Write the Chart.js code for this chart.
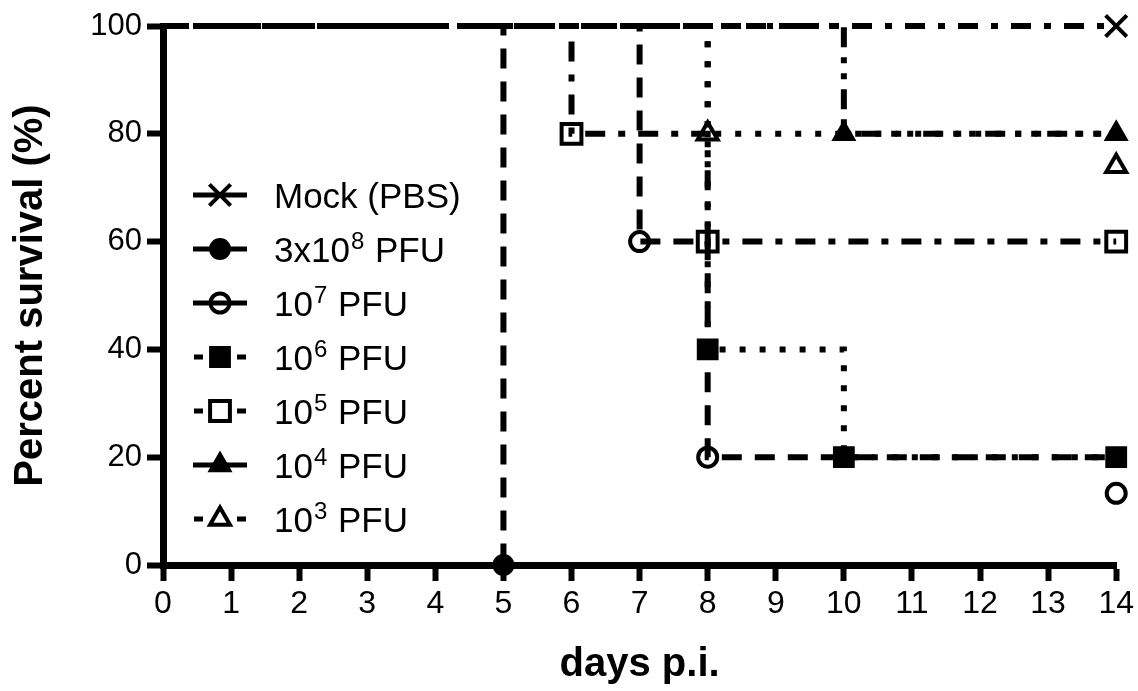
<!DOCTYPE html>
<html>
<head>
<meta charset="utf-8">
<title>Percent survival</title>
<script src="https://cdn.jsdelivr.net/npm/chart.js@4.4.1/dist/chart.umd.min.js"></script>
<style>
  html, body { margin: 0; padding: 0; background: #fff; }
  #wrap { width: 1138px; height: 691px; }
</style>
</head>
<body>
<div id="wrap"><canvas id="survivalChart" width="1138" height="691"></canvas></div>
<script>
// Values
const dayTicks = [0, 1, 2, 3, 4, 5, 6, 7, 8, 9, 10, 11, 12, 13, 14];
const survivalTicks = [0, 20, 40, 60, 80, 100];

const seriesNames = ["Mock (PBS)", "3x10^8 PFU", "10^7 PFU", "10^6 PFU", "10^5 PFU", "10^4 PFU", "10^3 PFU"];

const mockDays = [0, 14];
const mockSurvival = [100, 100];
const mockMarked = [false, true];

const pfu3e8Days = [0, 5];
const pfu3e8Survival = [100, 0];
const pfu3e8Marked = [false, true];

const pfu1e7Days = [0, 7, 8, 14];
const pfu1e7Survival = [100, 60, 20, 20];
const pfu1e7Marked = [false, true, true, false];

const pfu1e6Days = [0, 8, 10, 14];
const pfu1e6Survival = [100, 40, 20, 20];
const pfu1e6Marked = [false, true, true, true];

const pfu1e5Days = [0, 6, 8, 14];
const pfu1e5Survival = [100, 80, 60, 60];
const pfu1e5Marked = [false, true, true, true];

const pfu1e4Days = [0, 10, 14];
const pfu1e4Survival = [100, 80, 80];
const pfu1e4Marked = [false, true, true];

const pfu1e3Days = [0, 8, 14];
const pfu1e3Survival = [100, 80, 80];
const pfu1e3Marked = [false, true, false];

// end symbols that the figure shows nudged off their line (10^7 and 10^3)
const nudgedDays = [14, 14];
const nudgedSurvival = [13.3, 74];

const FONT = "'Liberation Sans', Arial, sans-serif";

function series(idx, days, surv, marked, look) {
  return {
    label: seriesNames[idx],
    data: days.map((d, i) => ({ x: d, y: surv[i] })),
    stepped: true,
    borderColor: "#000",
    borderWidth: 6,
    borderDash: look.dash,
    pointStyle: look.shape,
    pointRadius: marked.map(m => (m ? look.r : 0)),
    pointBackgroundColor: look.filled ? "#000" : "rgba(0,0,0,0)",
    pointBorderColor: "#000",
    pointBorderWidth: look.bw,
    keyRadius: look.r,
    keyStub: look.stub,
    clip: false,
    fill: false
  };
}

const dashed = [20, 13];
const dotted = [6, 14];
const dashDot = [20, 13, 7, 13];
const dashDotDot = [20, 10, 6, 10, 6, 10];

const looks = [
  { dash: dashDot, shape: "crossRot", r: 15, bw: 4, filled: false, stub: false },
  { dash: dashed, shape: "circle", r: 10, bw: 2, filled: true, stub: false },
  { dash: dashed, shape: "circle", r: 9.5, bw: 4, filled: false, stub: false },
  { dash: dotted, shape: "rect", r: 14, bw: 2, filled: true, stub: true },
  { dash: dashDot, shape: "rect", r: 14, bw: 4, filled: false, stub: true },
  { dash: dashDotDot, shape: "triangle", r: 12.5, bw: 2, filled: true, stub: false },
  { dash: dotted, shape: "triangle", r: 11.5, bw: 4, filled: false, stub: true }
];

const datasets = [
  series(0, mockDays, mockSurvival, mockMarked, looks[0]),
  series(1, pfu3e8Days, pfu3e8Survival, pfu3e8Marked, looks[1]),
  series(2, pfu1e7Days, pfu1e7Survival, pfu1e7Marked, looks[2]),
  series(3, pfu1e6Days, pfu1e6Survival, pfu1e6Marked, looks[3]),
  series(4, pfu1e5Days, pfu1e5Survival, pfu1e5Marked, looks[4]),
  series(5, pfu1e4Days, pfu1e4Survival, pfu1e4Marked, looks[5]),
  series(6, pfu1e3Days, pfu1e3Survival, pfu1e3Marked, looks[6])
];

// the two nudged end symbols, no line
[2, 6].forEach((idx, k) => {
  const lk = looks[idx];
  datasets.push({
    label: seriesNames[idx] + " end",
    data: [{ x: nudgedDays[k], y: nudgedSurvival[k] }],
    showLine: false,
    pointStyle: lk.shape,
    pointRadius: lk.r,
    pointBackgroundColor: lk.filled ? "#000" : "rgba(0,0,0,0)",
    pointBorderColor: "#000",
    pointBorderWidth: lk.bw,
    clip: false
  });
});

// Legend drawn by hand so the exponents can be superscript
const keyPlugin = {
  id: "key",
  afterDatasetsDraw(chart) {
    const ctx = chart.ctx;
    ctx.save();
    seriesNames.forEach((name, i) => {
      const ds = chart.data.datasets[i];
      const y = 195 + i * 54;
      const cx = 220;

      ctx.strokeStyle = "#000";
      ctx.lineWidth = 5;
      ctx.setLineDash([]);
      ctx.beginPath();
      if (ds.keyStub) {
        ctx.moveTo(194, y); ctx.lineTo(203, y);
        ctx.moveTo(237, y); ctx.lineTo(246, y);
      } else {
        ctx.moveTo(193, y); ctx.lineTo(247, y);
      }
      ctx.stroke();

      ctx.fillStyle = ds.pointBackgroundColor;
      ctx.strokeStyle = "#000";
      ctx.lineWidth = ds.pointBorderWidth;
      Chart.helpers.drawPoint(ctx, {
        pointStyle: ds.pointStyle,
        radius: ds.keyRadius,
        rotation: 0,
        borderWidth: ds.pointBorderWidth
      }, cx, y);

      // text, "^n" becomes a superscript
      ctx.fillStyle = "#000";
      ctx.textBaseline = "alphabetic";
      ctx.textAlign = "left";
      let x = 274;
      const base = y + 13;
      name.split(/(\^\d+)/).forEach(part => {
        if (!part) return;
        if (part[0] === "^") {
          ctx.font = "24px " + FONT;
          ctx.fillText(part.slice(1), x + 1, base - 13);
          x += ctx.measureText(part.slice(1)).width + 2;
        } else {
          ctx.font = "35px " + FONT;
          ctx.fillText(part, x, base);
          x += ctx.measureText(part).width;
        }
      });
    });
    ctx.restore();
  }
};

const ctx = document.getElementById("survivalChart").getContext("2d");
const survivalChart = new Chart(ctx, {
  type: "line",
  data: { datasets: datasets },
  options: {
    responsive: false,
    animation: false,
    events: [],
    layout: { padding: { top: 26, right: 19, left: 0, bottom: 0 } },
    scales: {
      x: {
        type: "linear",
        min: 0,
        max: 14,
        afterBuildTicks: scale => { scale.ticks = dayTicks.map(v => ({ value: v })); },
        afterFit: scale => { scale.height = 126; },
        border: { display: true, color: "#000", width: 7 },
        grid: {
          drawOnChartArea: false,
          drawTicks: true,
          tickLength: 16,
          tickWidth: 6,
          tickColor: "#000"
        },
        ticks: {
          color: "#000",
          padding: 4,
          maxRotation: 0,
          autoSkip: false,
          font: { family: FONT, size: 32 }
        },
        title: {
          display: true,
          text: "days p.i.",
          color: "#000",
          padding: { top: 0, bottom: 2 },
          font: { family: FONT, size: 40, weight: "bold" }
        }
      },
      y: {
        min: 0,
        max: 100,
        afterBuildTicks: scale => { scale.ticks = survivalTicks.map(v => ({ value: v })); },
        afterFit: scale => { scale.width = 163; },
        border: { display: true, color: "#000", width: 7 },
        grid: {
          drawOnChartArea: false,
          drawTicks: true,
          tickLength: 16,
          tickWidth: 6,
          tickColor: "#000"
        },
        ticks: {
          color: "#000",
          padding: 5,
          font: { family: FONT, size: 31 }
        },
        title: {
          display: true,
          text: "Percent survival (%)",
          color: "#000",
          padding: { top: 7, bottom: 0 },
          font: { family: FONT, size: 40, weight: "bold" }
        }
      }
    },
    plugins: {
      legend: { display: false },
      tooltip: { enabled: false }
    }
  },
  plugins: [keyPlugin]
});
</script>
</body>
</html>
